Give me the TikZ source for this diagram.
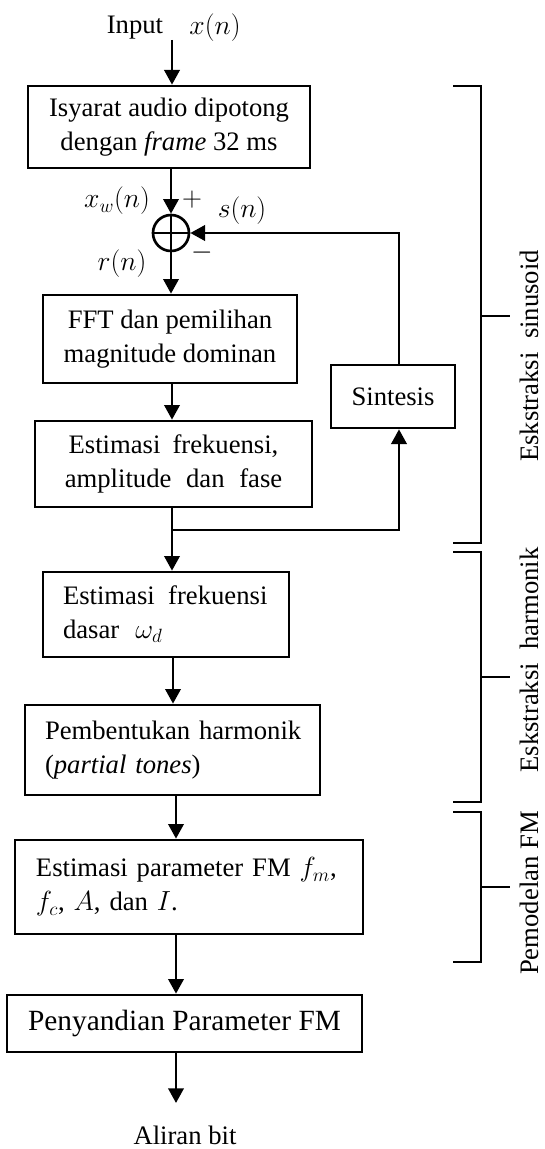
\documentclass[tikz,border=0pt]{standalone}
\usepackage{fontspec}
\setmainfont{Liberation Serif}
\usetikzlibrary{arrows.meta}
\begin{document}
\begin{tikzpicture}[x=0.75pt,y=-0.75pt,
  every node/.style={font=\fontsize{20}{25.5}\selectfont},
  box/.style={draw, line width=2pt, inner sep=0pt, align=center},
  lbox/.style={draw, line width=2pt, inner ysep=0pt, inner xsep=15pt, align=left},
  line/.style={line width=2pt},
  arr/.style={line width=2pt, -{Triangle[length=11pt,width=11.5pt]}},
  brk/.style={line width=2pt},
  lbl/.style={inner sep=0pt},
  mlbl/.style={inner sep=0pt, font=\fontsize{22}{26}\selectfont}
]
\useasboundingbox (0,0) rectangle (544,1149);

% column coordinates
\coordinate (colA) at (172,0);
\coordinate (colB) at (173,0);
\coordinate (colC) at (176,0);
\coordinate (fbx) at (399,0);

% input
\node[lbl] (inp) at (135,28) {Input};
\node[mlbl] (xn) at (215,28) {$x(n)$};
\coordinate (inTop) at (172,40);

% boxes
\node[box, minimum width=211.5pt, minimum height=61.5pt] (b1) at (169,127)
  {Isyarat audio dipotong\\dengan \textit{frame} 32 ms};
\node[draw, circle, line width=2pt, minimum size=27pt, inner sep=0pt] (sum) at (171,233) {};
\node[box, minimum width=190.5pt, minimum height=66pt] (b2) at (170,339)
  {FFT dan pemilihan\\magnitude dominan};
\node[box, minimum width=207.75pt, minimum height=64.5pt] (b3) at (173.5,464)
  {Estimasi\hspace{0.45em}frekuensi,\\amplitude\hspace{0.55em}dan\hspace{0.55em}fase};
\node[box, minimum width=93pt, minimum height=47.25pt] (syn) at (393,396.5) {Sintesis};
\node[lbox, text width=154.5pt, minimum height=63.75pt] (b4) at (166,614.5)
  {\mbox{Estimasi\hspace{0.5em}frekuensi}\\\mbox{dasar\hspace{0.6em}{\fontsize{22}{26}\selectfont$\omega_d$}}};
\node[lbox, text width=191.25pt, minimum height=67.5pt] (b5) at (172.5,750)
  {\mbox{Pembentukan harmonik}\\\mbox{(\textit{partial tones})}};
\node[lbox, inner xsep=15.75pt, text width=229.5pt, minimum height=70.5pt] (b6) at (189,887)
  {\mbox{Estimasi parameter FM $f_m$,}\\\mbox{$f_c$, $A$, dan $I$.}};
\node[box, minimum width=266.25pt, minimum height=42.75pt, font=\fontsize{22}{26}\selectfont] (b7) at (184.5,1023.5)
  {Penyandian Parameter FM};
\node[lbl] (out) at (185,1135) {Aliran bit};
\coordinate (outEnd) at (176,1103);
\coordinate (jn) at (172,530);

% summing junction cross
\draw[line] (sum.north) -- (sum.south) (sum.west) -- (sum.east);

% signal labels
\node[mlbl] (xw) at (117,201) {$x_w(n)$};
\node[mlbl] (plus) at (192,200) {$+$};
\node[mlbl] (sn) at (242,211) {$s(n)$};
\node[mlbl] (minus) at (202,253) {$-$};
\node[mlbl] (rn) at (122,264) {$r(n)$};

% connectors
\draw[arr] (inTop) -- (b1.north -| inTop);
\draw[arr] (b1.south -| sum) -- (sum.north);
\draw[arr] (sum.south) -- (b2.north -| sum);
\draw[arr] (b2.south -| colA) -- (b3.north -| colA);
\draw[line] (b3.south -| colA) -- (jn);
\draw[arr] (jn) -- (b4.north -| colA);
\draw[arr] (jn) -| (syn.south -| fbx);
\draw[arr] (syn.north -| fbx) |- (sum.east);
\draw[arr] (b4.south -| colB) -- (b5.north -| colB);
\draw[arr] (b5.south -| colC) -- (b6.north -| colC);
\draw[arr] (b6.south -| colC) -- (b7.north -| colC);
\draw[arr] (b7.south -| colC) -- (outEnd);

% brackets
\draw[brk] (453,86) -- (481,86) -- (481,543) -- (453,543);
\draw[brk] (481,316) -- (510,316);
\draw[brk] (453,552) -- (481,552) -- (481,802) -- (453,802);
\draw[brk] (481,677) -- (510,677);
\draw[brk] (453,812) -- (481,812) -- (481,962) -- (453,962);
\draw[brk] (481,887) -- (510,887);

\node[lbl, rotate=90] (g1) at (529,356) {Eskstraksi\hspace{0.5em}sinusoid};
\node[lbl, rotate=90] (g2) at (529,660) {Eskstraksi\hspace{0.5em}harmonik};
\node[lbl, rotate=90] (g3) at (529,893) {Pemodelan FM};
\end{tikzpicture}
\end{document}
